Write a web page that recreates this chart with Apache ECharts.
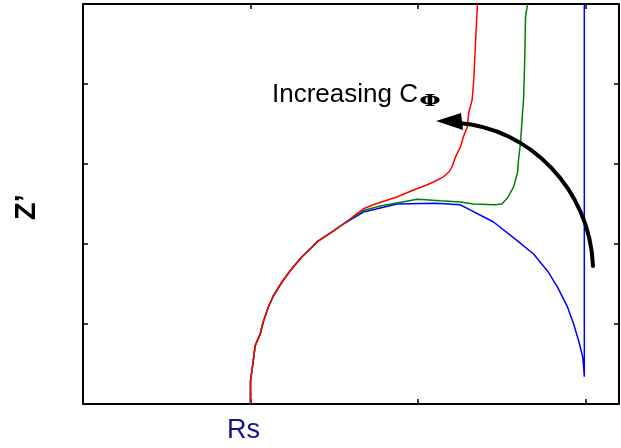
<!DOCTYPE html>
<html>
<head>
<meta charset="utf-8">
<script src="https://cdn.jsdelivr.net/npm/echarts@6/dist/echarts.min.js"></script>
<style>
  html, body { margin: 0; padding: 0; background: #fff; }
  #chart { width: 621px; height: 448px; }
</style>
</head>
<body>
<div id="chart"></div>
<script>
// Nyquist-style plot, axes in arbitrary units (Rs at x = 1)
const commonArc = [
  [1.0, 0], [1.0, 0.29], [1.014, 0.5], [1.028, 0.73], [1.058, 0.875],
  [1.076, 1.025], [1.106, 1.21], [1.136, 1.35], [1.188, 1.525], [1.237, 1.666],
  [1.307, 1.84], [1.357, 1.94], [1.405, 2.04], [1.494, 2.16], [1.554, 2.25]
]
const blueTail = [
  [1.674, 2.4], [1.775, 2.45], [1.875, 2.5], [2.104, 2.51], [2.253, 2.49],
  [2.451, 2.275], [2.594, 2.04], [2.69, 1.875], [2.774, 1.66], [2.833, 1.46],
  [2.893, 1.21], [2.929, 1.0], [2.959, 0.79], [2.983, 0.59], [2.989, 0.46],
  [2.993, 0.34], [2.993, 5.0]
]
const greenTail = [
  [1.674, 2.42], [1.775, 2.475], [1.865, 2.51], [1.996, 2.56], [2.134, 2.54],
  [2.253, 2.525], [2.331, 2.5], [2.455, 2.49], [2.5, 2.5], [2.534, 2.575], [2.57, 2.71],
  [2.594, 2.89], [2.6, 3.05], [2.612, 3.26], [2.624, 3.64], [2.63, 3.8],
  [2.636, 4.21], [2.642, 4.84], [2.654, 5.0]
]
const redTail = [
  [1.674, 2.44], [1.733, 2.49], [1.877, 2.59], [1.973, 2.675], [2.056, 2.74],
  [2.092, 2.775], [2.152, 2.84], [2.185, 2.9], [2.204, 2.97], [2.224, 3.09],
  [2.253, 3.21], [2.271, 3.34], [2.294, 3.46], [2.303, 3.64], [2.323, 3.8],
  [2.333, 4.05], [2.343, 4.51], [2.355, 5.0]
]
const xTicks = { min: 0, max: 3.2, interval: 1 }
const yTicks = { min: 0, max: 5, interval: 1 }

const font = "'Liberation Sans', Arial, sans-serif"

function frameAxis(base, position) {
  return Object.assign({
    type: 'value',
    position: position,
    axisLine: { show: true, onZero: false, lineStyle: { color: '#000', width: 2 }},
    axisTick: { show: true, inside: true, length: 5, lineStyle: { color: '#000', width: 1.5 }},
    axisLabel: { show: false },
    splitLine: { show: false }
  }, base)
}

function curve(data, color) {
  return {
    type: 'line',
    data: data,
    showSymbol: false,
    silent: true,
    lineStyle: { color: color, width: 1.5 },
    itemStyle: { color: color }
  }
}

const chart = echarts.init(document.getElementById('chart'))
chart.setOption({
  backgroundColor: '#fff',
  animation: false,
  grid: { left: 83, top: 4, right: 2, bottom: 44 },
  xAxis: [frameAxis(xTicks, 'bottom'), frameAxis(xTicks, 'top')],
  yAxis: [frameAxis(yTicks, 'left'), frameAxis(yTicks, 'right')],
  series: [
    curve(commonArc.concat(blueTail), '#0000ff'),
    curve(commonArc.concat(greenTail), '#008000'),
    curve(commonArc.concat(redTail), '#ff0000')
  ],
  graphic: [
    // curved arrow
    {
      type: 'bezierCurve',
      shape: { x1: 593, y1: 266, cpx1: 590, cpy1: 190, cpx2: 530, cpy2: 128, x2: 458, y2: 123 },
      style: { stroke: '#000', lineWidth: 4, fill: null, lineCap: 'round' },
      z: 100
    },
    {
      type: 'polygon',
      shape: { points: [[436, 121], [461, 113], [463, 130]] },
      style: { fill: '#000' },
      z: 100
    },
    {
      type: 'text',
      left: 272,
      top: 82,
      style: { text: 'Increasing C', font: '26px ' + font, fill: '#000' },
      z: 100
    },
    {
      type: 'text',
      x: 430,
      y: 102,
      scaleX: 1.45,
      style: { text: 'Φ', font: 'bold 17px "DejaVu Serif", serif', fill: '#000', align: 'center', verticalAlign: 'middle' },
      z: 100
    },
    {
      type: 'text',
      left: 227,
      top: 417,
      style: { text: 'Rs', font: '27px ' + font, fill: '#14148c' },
      z: 100
    },
    {
      type: 'text',
      x: 27,
      y: 207,
      rotation: Math.PI / 2,
      style: { text: 'Z’', font: 'bold 29px ' + font, fill: '#000', align: 'center', verticalAlign: 'middle' },
      z: 100
    }
  ]
})
</script>
</body>
</html>
